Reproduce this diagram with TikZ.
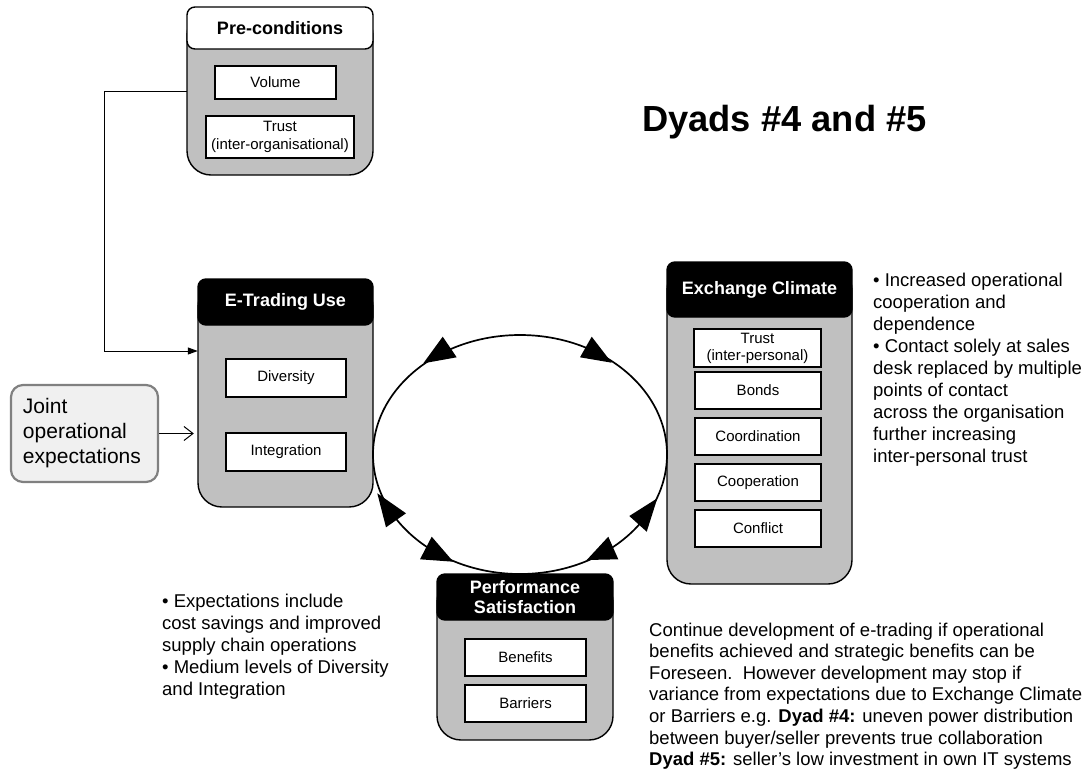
\documentclass[tikz,border=0pt]{standalone}
\usepackage{fontspec}
\setmainfont{Liberation Sans}
\usetikzlibrary{arrows.meta,shapes.geometric}
\definecolor{bodygray}{HTML}{C0C0C0}
\definecolor{jointfill}{HTML}{F0F0F0}
\definecolor{jointdraw}{HTML}{808080}
\tikzset{
  boxline/.style={draw=black, line width=1.4pt},
  hdrblack/.style={fill=black, text=white},
  hdrwhite/.style={fill=white, text=black},
  hdrfont/.style={font=\fontsize{18pt}{20.7pt}\selectfont\bfseries, align=center, inner sep=1pt},
  ibox/.style={draw=black, line width=1.4pt, fill=white, inner sep=0pt, align=center,
               font=\fontsize{15pt}{17.5pt}\selectfont},
  bodytext/.style={font=\fontsize{18.5pt}{22pt}\selectfont, align=left, inner sep=0pt, anchor=north west},
  headtip/.style={fill=black},
}
\newcommand{\mkcont}[8]{%
  \node[inner sep=0pt, minimum width={(#4-#2)*1pt}, minimum height={(#5-#3)*1pt}] (#1) at ({(#2+#4)/2},{(#3+#5)/2}) {};
  \filldraw[boxline, fill=bodygray, rounded corners=24pt] (#2,#3+4) rectangle (#4,#5);
  \filldraw[boxline, #7, rounded corners=8pt] (#2,#3) rectangle (#4,#6);
  \node[hdrfont, #7] (#1-t) at ({(#2+#4)/2},{(#3+#6)/2}) {#8};
}
\begin{document}
\begin{tikzpicture}[x=1pt,y=-1pt]
\useasboundingbox (0,0) rectangle (1086,774);

% containers
\mkcont{pre}{187}{7}{373}{175}{49}{hdrwhite}{Pre-conditions}
\node[ibox, minimum width=121pt, minimum height=33pt] (vol) at (275.5,82.5) {Volume};
\node[ibox, minimum width=148pt, minimum height=42pt] (trusto) at (280,137) {Trust\\(inter-organisational)};

\mkcont{etu}{198}{279}{373}{507}{325}{hdrblack}{E-Trading Use}
\node[ibox, minimum width=120pt, minimum height=38pt] (div) at (286,378) {Diversity};
\node[ibox, minimum width=120pt, minimum height=38pt] (integ) at (286,452) {Integration};

\mkcont{exc}{667}{262}{852}{584}{317}{hdrblack}{Exchange Climate}
\node[ibox, minimum width=127pt, minimum height=38pt, font=\fontsize{15pt}{17pt}\selectfont] (trustp) at (757.5,348) {Trust\\(inter-personal)};
\node[ibox, minimum width=126pt, minimum height=37pt] (bonds) at (758,390.5) {Bonds};
\node[ibox, minimum width=126pt, minimum height=37pt] (coord) at (758,436.5) {Coordination};
\node[ibox, minimum width=126pt, minimum height=37pt] (coop) at (758,482.5) {Cooperation};
\node[ibox, minimum width=126pt, minimum height=37pt] (confl) at (758,528.5) {Conflict};

\mkcont{perf}{437}{574}{613}{740}{620}{hdrblack}{Performance\\Satisfaction}
\node[ibox, minimum width=121pt, minimum height=37pt] (ben) at (525.5,657.5) {Benefits};
\node[ibox, minimum width=121pt, minimum height=37pt] (bar) at (525.5,703.5) {Barriers};

% joint expectations
\node[draw=jointdraw, fill=jointfill, line width=2.2pt, rounded corners=12pt,
      minimum width=147pt, minimum height=97pt, inner xsep=12pt, inner ysep=0pt,
      text width=123pt, align=left, font=\fontsize{21pt}{25pt}\selectfont] (joint) at (84.5,433.5)
      {Joint\\operational\\expectations};

% connectors
\draw[line width=1pt, -{Triangle[length=10pt,width=7pt]}] (pre.west) -- ++(-82pt,0) |- ([yshift=42pt]etu.west);
\draw[line width=1pt, -{Straight Barb[length=9pt,width=14pt]}] (joint.east) -- ([xshift=-4pt]joint.east -| etu.west);

% cycle
\node[draw, ellipse, line width=1.7pt, minimum width=294pt, minimum height=239pt, inner sep=0pt] (loop) at (520,454.5) {};
\fill[headtip] (442.7,336.7) -- (423.3,363.3) -- (456.7,357.3) -- cycle;
\fill[headtip] (591.7,336.7) -- (580,357.3) -- (611.7,362.7) -- cycle;
\fill[headtip] (377.3,493.3) -- (386,527.3) -- (406,513.3) -- cycle;
\fill[headtip] (431.7,536.7) -- (420,559.3) -- (453.3,561.7) -- cycle;
\fill[headtip] (657.3,498.3) -- (629.3,516) -- (646.7,531.7) -- cycle;
\fill[headtip] (608.3,536.7) -- (586.7,560) -- (618.3,559.3) -- cycle;

% title
\node[font=\fontsize{36.3pt}{40pt}\selectfont\bfseries, anchor=base west, inner sep=0pt] (title) at (642,131) {Dyads \#4 and \#5};

% texts
\node[bodytext] (rtext) at (873,272.5) {• Increased operational\\cooperation and\\dependence\\• Contact solely at sales\\desk replaced by multiple\\points of contact\\across the organisation\\further increasing\\inter-personal trust};
\node[bodytext] (ltext) at (162,593.5) {• Expectations include\\cost savings and improved\\supply chain operations\\• Medium levels of Diversity\\and Integration};
\node[bodytext, font=\fontsize{18.5pt}{21.6pt}\selectfont] (btext) at (649,622.5) {Continue development of e-trading if operational\\benefits achieved and strategic benefits can be\\Foreseen.\ \ However development may stop if\\variance from expectations due to Exchange Climate\\or Barriers e.g. \textbf{Dyad \#4:} uneven power distribution\\between buyer/seller prevents true collaboration\\\textbf{Dyad \#5:} seller’s low investment in own IT systems};
\end{tikzpicture}
\end{document}
